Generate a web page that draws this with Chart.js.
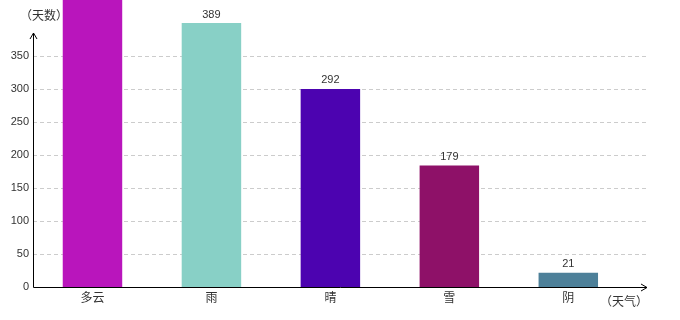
<!DOCTYPE html>
<html>
<head>
<meta charset="utf-8">
<script src="https://cdn.jsdelivr.net/npm/chart.js@4/dist/chart.umd.min.js"></script>
<style>
  body { margin: 0; background: #fff; }
  #wrap { width: 680px; height: 320px; }
</style>
</head>
<body>
<div id="wrap"><canvas id="chart" width="680" height="320"></canvas></div>
<script>
// Weather days chart
const categories = ['多云', '雨', '晴', '雪', '阴'];
const days = [460, 389, 292, 179, 21];
const barColors = ['#b915bc', '#88d0c6', '#4c03b0', '#8e1168', '#4d8099'];
const yTicks = [0, 50, 100, 150, 200, 250, 300, 350];

const numFont = '11px "Liberation Sans", Arial, sans-serif';
const cjkFont = '12px "Noto Sans CJK SC", sans-serif';

// axis lines with arrows, axis titles, value labels
const decor = {
  id: 'decor',
  afterDatasetsDraw(chart) {
    const { ctx, chartArea: a } = chart;
    const meta = chart.getDatasetMeta(0);
    ctx.save();

    ctx.font = numFont;
    ctx.fillStyle = '#333';
    ctx.textAlign = 'center';
    ctx.textBaseline = 'bottom';
    meta.data.forEach((bar, i) => {
      ctx.fillText(String(days[i]), bar.x, bar.y - 3);
    });

    const x0 = Math.round(a.left) + 0.5;
    const y0 = Math.round(a.bottom) + 0.5;
    const yTop = 33;
    const xEnd = Math.round(a.right) - 1;
    ctx.strokeStyle = '#000';
    ctx.lineWidth = 1;
    ctx.beginPath();
    ctx.moveTo(x0, y0);
    ctx.lineTo(x0, yTop);
    ctx.moveTo(x0 - 3.5, yTop + 6);
    ctx.lineTo(x0, yTop);
    ctx.lineTo(x0 + 3.5, yTop + 6);
    ctx.moveTo(x0, y0);
    ctx.lineTo(xEnd, y0);
    ctx.moveTo(xEnd - 6, y0 - 3.5);
    ctx.lineTo(xEnd, y0);
    ctx.lineTo(xEnd - 6, y0 + 3.5);
    ctx.stroke();

    ctx.font = cjkFont;
    ctx.fillStyle = '#333';
    ctx.textBaseline = 'middle';
    ctx.textAlign = 'left';
    ctx.fillText('（天数）', 20, 15);
    ctx.fillText('（天气）', 600, 301);
    ctx.restore();
  }
};

new Chart(document.getElementById('chart'), {
  type: 'bar',
  data: {
    datasets: [{
      data: days.map((v, i) => ({ x: i, y: v })),
      backgroundColor: barColors,
      borderWidth: 0,
      barPercentage: 0.5,
      categoryPercentage: 1,
      yAxisID: 'yBar'
    }]
  },
  options: {
    responsive: false,
    animation: false,
    layout: { padding: { top: 0, right: 32, left: 0, bottom: 0 } },
    plugins: {
      legend: { display: false },
      tooltip: { enabled: false }
    },
    scales: {
      x: {
        type: 'linear',
        offset: false,
        min: -0.5,
        max: 4.67,
        grid: { display: false, drawTicks: false },
        border: { display: false },
        afterBuildTicks: (scale) => {
          scale.ticks = categories.map((c, i) => ({ value: i }));
        },
        afterFit: (scale) => {
          scale.height = 33;
          scale.paddingLeft = 0;
          scale.paddingRight = 0;
        },
        ticks: {
          padding: 3,
          maxRotation: 0,
          autoSkip: false,
          color: '#333',
          font: { family: '"Noto Sans CJK SC", sans-serif', size: 12 },
          callback: (v) => categories[v]
        }
      },
      y: {
        min: 0,
        max: 434.85,
        grid: {
          drawTicks: false,
          color: (c) => (c.tick && c.tick.value === 0 ? 'rgba(0,0,0,0)' : '#cccccc'),
          lineWidth: 1
        },
        border: { display: false, dash: [4, 3] },
        afterBuildTicks: (scale) => {
          scale.ticks = yTicks.map(v => ({ value: v }));
        },
        afterFit: (scale) => {
          scale.width = 33;
          scale.paddingTop = 0;
          scale.paddingBottom = 0;
        },
        ticks: {
          padding: 4,
          color: '#333',
          font: { family: '"Liberation Sans", Arial, sans-serif', size: 11 }
        }
      },
      yBar: {
        display: false,
        min: 0,
        max: 423
      }
    }
  },
  plugins: [decor]
});
</script>
</body>
</html>
